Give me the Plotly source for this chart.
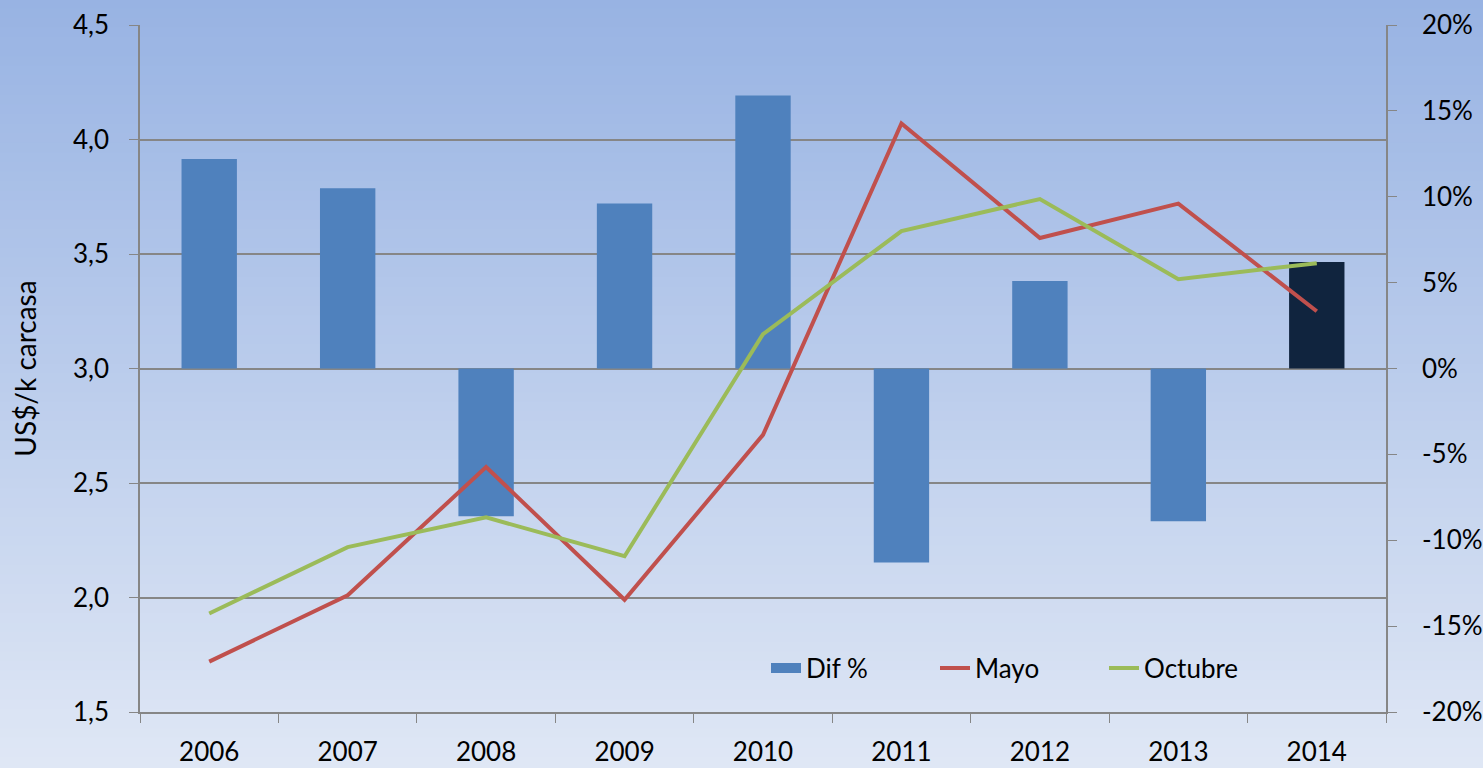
import plotly.graph_objects as go

years = ["2006", "2007", "2008", "2009", "2010", "2011", "2012", "2013", "2014"]
dif_pct = [12.2, 10.5, -8.6, 9.6, 15.9, -11.3, 5.1, -8.9, 6.2]
mayo = [1.72, 2.01, 2.57, 1.99, 2.71, 4.07, 3.57, 3.72, 3.25]
octubre = [1.93, 2.22, 2.35, 2.18, 3.15, 3.60, 3.74, 3.39, 3.46]
bar_colors = ["#4f81bd"] * 8 + ["#10243e"]
pct_ticks = [-20, -15, -10, -5, 0, 5, 10, 15, 20]
pct_labels = ["-20%", "-15%", "-10%", "-5%", "0%", "5%", "10%", "15%", "20%"]

W, H = 1483, 768
ML, MR, MT, MB = 140, 97, 25, 56
PW, PH = W - ML - MR, H - MT - MB

fig = go.Figure()
fig.add_trace(go.Bar(x=years, y=dif_pct, name="Dif %", marker=dict(color=bar_colors, line=dict(width=0)),
                     yaxis="y", showlegend=False))
# legend entry for the bars (wide rectangle look)
fig.add_trace(go.Scatter(x=[None], y=[None], name="Dif %", mode="lines",
                         line=dict(color="#4f81bd", width=17), yaxis="y"))
fig.add_trace(go.Scatter(x=years, y=mayo, name="Mayo", mode="lines",
                         line=dict(color="#c0504d", width=4), yaxis="y2"))
fig.add_trace(go.Scatter(x=years, y=octubre, name="Octubre", mode="lines",
                         line=dict(color="#9bbb59", width=4), yaxis="y2"))

# gradient background
def lerp(a, b, t):
    return int(round(a + (b - a) * t))
top = (0x98, 0xb3, 0xe3)
bot = (0xdf, 0xe7, 0xf5)
N = 80
y_lo = -MB / PH
y_hi = 1 + MT / PH
shapes = []
for i in range(N):
    t = i / (N - 1)
    c = tuple(lerp(top[k], bot[k], t) for k in range(3))
    y1 = y_hi - (y_hi - y_lo) * i / N
    y0 = y_hi - (y_hi - y_lo) * (i + 1) / N
    shapes.append(dict(type="rect", xref="paper", yref="paper", x0=-ML / PW, x1=1 + MR / PW,
                       y0=y0 - 0.002, y1=y1 + 0.002, fillcolor="rgb(%d,%d,%d)" % c,
                       line=dict(width=0), layer="below"))

FS = 26
font = dict(family="Lato, Open Sans, sans-serif", size=FS, color="#000000")
axcol = "#868686"
fig.update_layout(
    width=W, height=H,
    margin=dict(l=ML, r=MR, t=MT, b=MB, autoexpand=False),
    paper_bgcolor="#dfe7f5", plot_bgcolor="rgba(0,0,0,0)",
    font=font, separators=",.",
    shapes=shapes,
    barmode="overlay", bargap=0.6,
    xaxis=dict(type="category", showline=True, linecolor=axcol, linewidth=1.5,
               ticks="outside", tickson="boundaries", ticklen=9, tickcolor=axcol,
               showgrid=False, tickfont=dict(size=FS), ticklabelstandoff=16,
               automargin=False),
    yaxis=dict(side="right", range=[-20, 20], tickvals=pct_ticks, ticktext=pct_labels,
               showgrid=False, zeroline=False, showline=True, linecolor=axcol, linewidth=1.5,
               ticks="outside", ticklen=9, tickcolor=axcol, tickfont=dict(size=FS),
               ticklabelstandoff=20, automargin=False),
    yaxis2=dict(side="left", overlaying="y", range=[1.5, 4.5], dtick=0.5, tickformat=".1f",
                showgrid=True, gridcolor=axcol, gridwidth=1.5, zeroline=False,
                showline=True, linecolor=axcol, linewidth=1.5,
                ticks="outside", ticklen=9, tickcolor=axcol, tickfont=dict(size=FS),
                ticklabelstandoff=15, automargin=False,
                title=dict(text="US$/k carcasa", font=dict(size=28), standoff=28)),
    legend=dict(orientation="h", x=(766 - ML) / PW, xanchor="left", y=(712 - 668) / PH,
                yanchor="middle", bgcolor="rgba(0,0,0,0)", font=dict(size=FS),
                entrywidth=124, traceorder="normal"),
)
fig.write_html("out.html", config={"displayModeBar": False},
               post_script="document.body.style.margin='0';document.body.style.overflow='hidden';")
